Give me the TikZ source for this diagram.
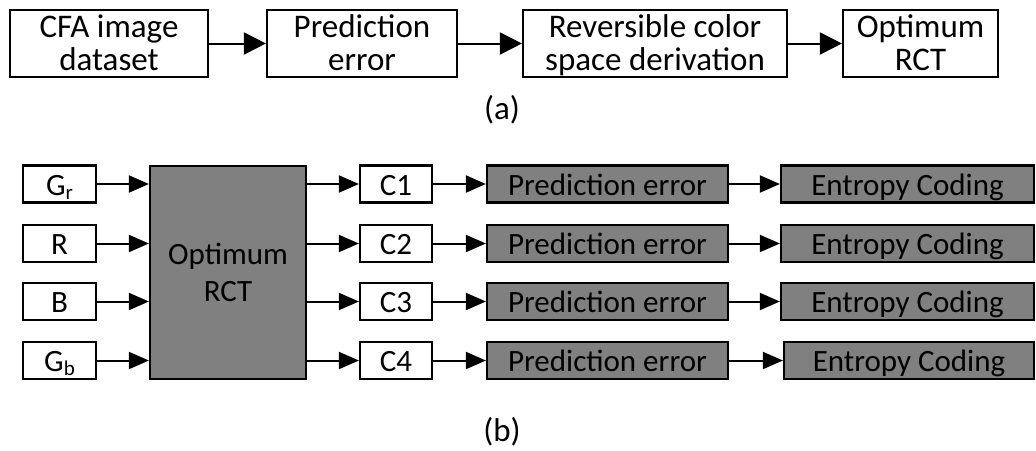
\documentclass[tikz,border=0pt]{standalone}
\usepackage{fontspec}
\setmainfont{Carlito}
\usetikzlibrary{arrows.meta}
\definecolor{boxgray}{HTML}{808080}
\newcommand{\subsc}[1]{\raisebox{-4pt}{\fontsize{21}{21}\selectfont #1}}
\tikzset{
  box/.style={draw=black, line width=2.2pt, rectangle, inner sep=0pt, align=center},
  topbox/.style={box, minimum height=67pt, text depth=2pt, font=\fontsize{33}{33}\selectfont},
  rowbox/.style={box, minimum height=37pt, text height=22pt, text depth=0pt, font=\fontsize{31}{33}\selectfont},
  graybox/.style={rowbox, fill=boxgray},
  toparrow/.style={line width=2pt, -{Triangle[length=22pt,width=22pt]}},
  botarrow/.style={line width=2pt, -{Triangle[length=20pt,width=17pt]}},
  lbl/.style={inner sep=0pt, font=\fontsize{33}{33}\selectfont}
}
\begin{document}
\begin{tikzpicture}[x=1pt,y=-1pt]
\useasboundingbox (0,0) rectangle (1036,450);
% (a)
\node[topbox, minimum width=198pt] (a1) at (109,43.5) {\strut CFA image\\\strut dataset};
\node[topbox, minimum width=190pt] (a2) at (362,43.5) {\strut Prediction\\\strut error};
\node[topbox, minimum width=264pt] (a3) at (655,43.5) {\strut Reversible color\\\strut space derivation};
\node[topbox, minimum width=155pt] (a4) at (920.5,43.5) {\strut Optimum\\\strut RCT};
\draw[toparrow] (a1.east) -- (a2.west);
\draw[toparrow] (a2.east) -- (a3.west);
\draw[toparrow] (a3.east) -- (a4.west);
\node[lbl] (la) at (502,110) {(a)};
% (b)
\node[box, fill=boxgray, minimum width=156pt, minimum height=213pt] (rct) at (228,272.5) {};
\node[font=\fontsize{31}{37}\selectfont, align=center, inner sep=0pt, yshift=-3.5pt] (rcttext) at (rct.center) {\strut Optimum\\\strut RCT};
\node[rowbox, minimum width=73pt] (i1) at (59.5,184) {G\subsc{r}};
\node[rowbox, minimum width=73pt] (i2) at (59.5,243.5) {R};
\node[rowbox, minimum width=73pt] (i3) at (59.5,301.5) {B};
\node[rowbox, minimum width=73pt] (i4) at (59.5,360.5) {G\subsc{b}};
\node[rowbox, minimum width=72pt] (c1) at (396,184) {C1};
\node[rowbox, minimum width=72pt] (c2) at (396,243.5) {C2};
\node[rowbox, minimum width=72pt] (c3) at (396,301.5) {C3};
\node[rowbox, minimum width=72pt] (c4) at (396,360.5) {C4};
\node[graybox, minimum width=241pt] (p1) at (607.5,184) {Prediction error};
\node[graybox, minimum width=241pt] (p2) at (607.5,243.5) {Prediction error};
\node[graybox, minimum width=241pt] (p3) at (607.5,301.5) {Prediction error};
\node[graybox, minimum width=241pt] (p4) at (607.5,360.5) {Prediction error};
\node[graybox, minimum width=253pt] (e1) at (907.5,184) {Entropy Coding};
\node[graybox, minimum width=253pt] (e2) at (907.5,243.5) {Entropy Coding};
\node[graybox, minimum width=253pt] (e3) at (907.5,301.5) {Entropy Coding};
\node[graybox, minimum width=250pt] (e4) at (909,360.5) {Entropy Coding};
\foreach \k in {1,2,3,4}{
  \draw[botarrow] (i\k.east) -- (i\k.east -| rct.west);
  \draw[botarrow] (rct.east |- c\k.west) -- (c\k.west);
  \draw[botarrow] (c\k.east) -- (p\k.west);
  \draw[botarrow] (p\k.east) -- (e\k.west);
}
\node[lbl] (lb) at (502,432) {(b)};
\end{tikzpicture}
\end{document}
